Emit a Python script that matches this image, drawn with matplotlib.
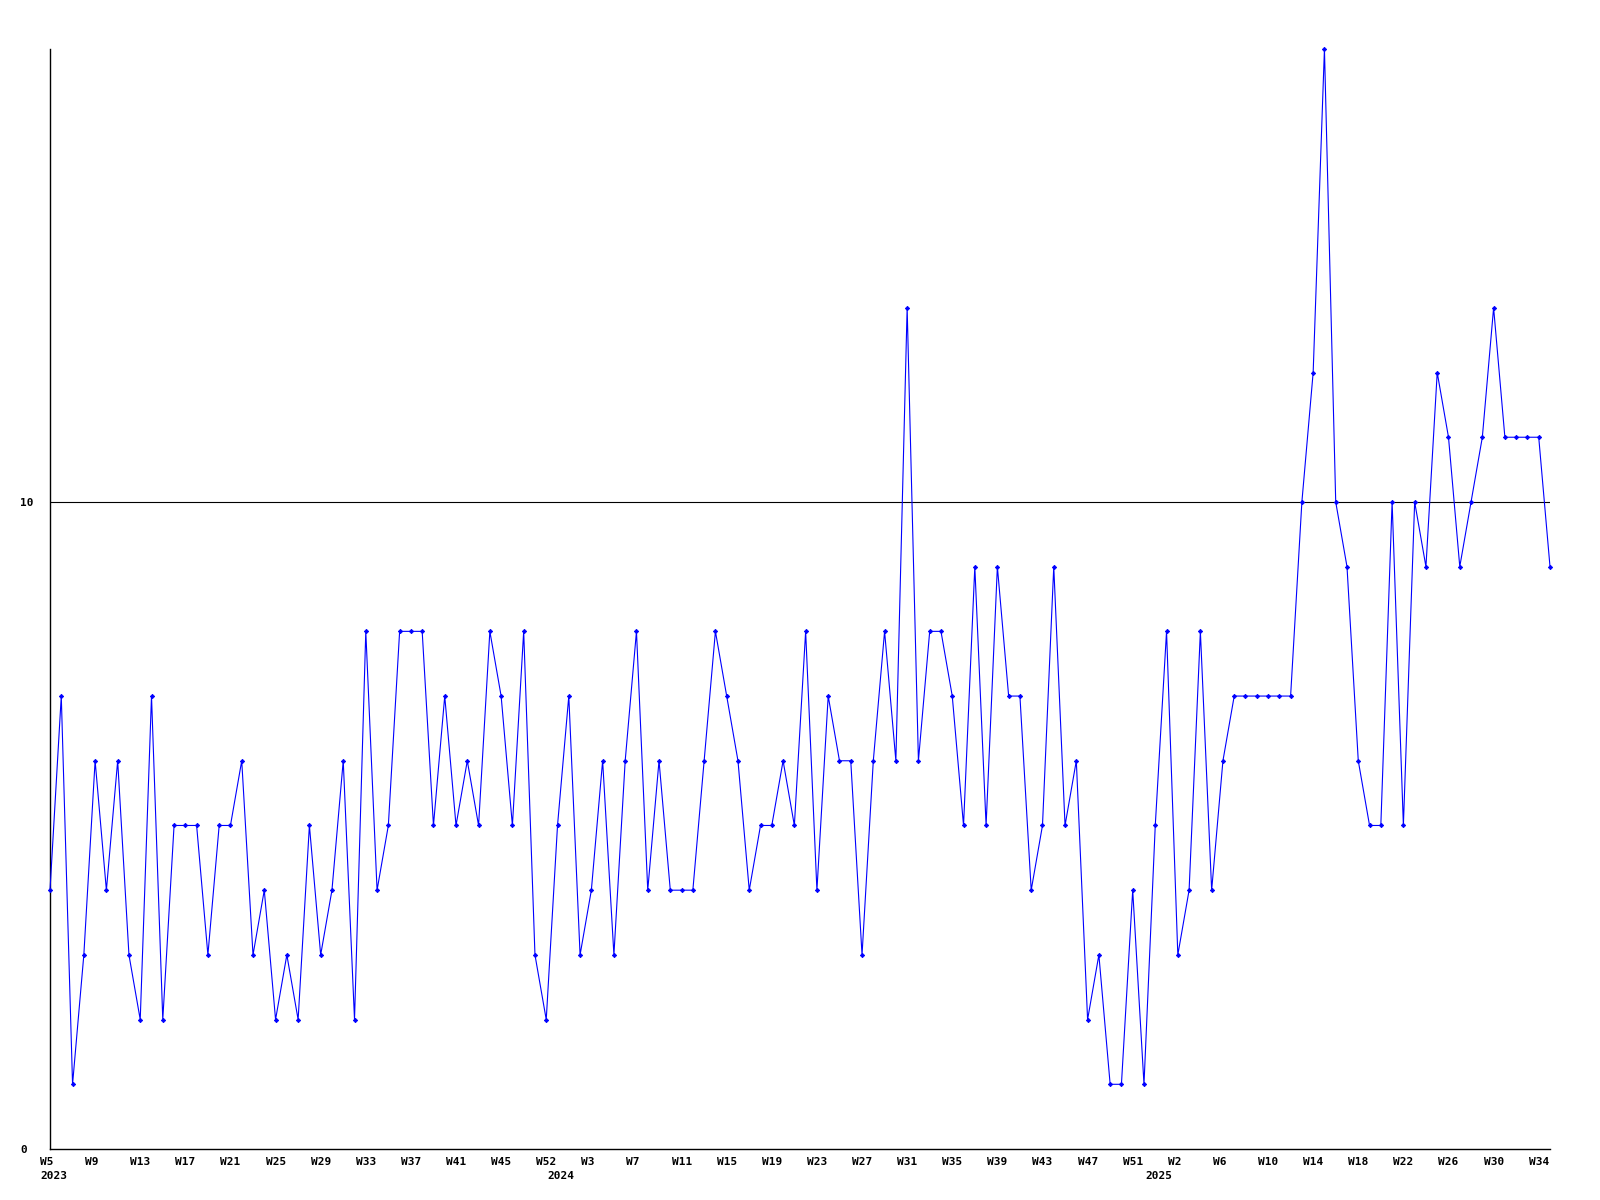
import matplotlib
matplotlib.use("Agg")
import matplotlib.pyplot as plt
from matplotlib.transforms import ScaledTranslation

# ---- data ----
years = [2023, 2024, 2025]
weeks_2023 = [5, 6, 7, 8, 9, 10, 11, 12, 13, 14, 15, 16, 17, 18, 19, 20, 21, 22, 23, 24,
              25, 26, 27, 28, 29, 30, 31, 32, 33, 34, 35, 36, 37, 38, 39, 40, 41, 42, 43, 44,
              45, 46, 48, 50, 52]
weeks_2024 = [0, 1, 2, 3, 4, 5, 6, 7, 8, 9, 10, 11, 12, 13, 14, 15, 16, 17, 18, 19, 20,
              21, 22, 23, 24, 25, 26, 27, 28, 29, 30, 31, 32, 33, 34, 35, 36, 37, 38, 39, 40,
              41, 42, 43, 44, 45, 46, 47, 48, 49, 50, 51, 52]
weeks_2025 = [0, 1, 2, 3, 4, 5, 6, 7, 8, 9, 10, 11, 12, 13, 14, 15, 16, 17, 18, 19, 20,
              21, 22, 23, 24, 25, 26, 27, 28, 29, 30, 31, 32, 33, 34, 35]
values = [4, 7, 1, 3, 6, 4, 6, 3, 2, 7, 2, 5, 5, 5, 3, 5, 5, 6, 3, 4,
          2, 3, 2, 5, 3, 4, 6, 2, 8, 4, 5, 8, 8, 8, 5, 7, 5, 6, 5, 8,
          7, 5, 8, 3, 2, 5, 7, 3, 4, 6, 3, 6, 8, 4, 6, 4, 4, 4, 6, 8,
          7, 6, 4, 5, 5, 6, 5, 8, 4, 7, 6, 6, 3, 6, 8, 6, 13, 6, 8, 8,
          7, 5, 9, 5, 9, 7, 7, 4, 5, 9, 5, 6, 2, 3, 1, 1, 4, 1, 5, 8,
          3, 4, 8, 4, 6, 7, 7, 7, 7, 7, 7, 10, 12, 17, 10, 9, 6, 5, 5, 10,
          5, 10, 9, 12, 11, 9, 10, 11, 13, 11, 11, 11, 11, 9]
y_ticks = [0, 10]
reference_level = 10

week_lists = [weeks_2023, weeks_2024, weeks_2025]
labels = []
year_starts = []
for yr, wl in zip(years, week_lists):
    year_starts.append(len(labels))
    labels += ["W%d" % w for w in wl]
x = list(range(len(values)))

W, H = 1600, 1200
fig = plt.figure(figsize=(W / 100, H / 100), dpi=100)
ax = fig.add_axes([50 / W, 1 - 1149 / H, 1500 / W, 1100 / H])

ax.axhline(reference_level, color="black", lw=0.8, zorder=1)
ax.plot(x, values, color="#0000ff", lw=0.8, marker="D", ms=2.2,
        mfc="#0000ff", mec="#0000ff", mew=0.6, clip_on=False, zorder=3)

ax.set_xlim(0, len(values) - 1)
ax.set_ylim(0, 17)
for s in ["top", "right"]:
    ax.spines[s].set_visible(False)
for s in ["left", "bottom"]:
    ax.spines[s].set_color("black")
    ax.spines[s].set_linewidth(1.0)

font = dict(family="DejaVu Sans Mono", weight="bold", size=8)
ax.set_xticks(x[::4])
ax.set_xticklabels(labels[::4], **font)
ax.tick_params(axis="x", length=0, pad=6)
shift = ScaledTranslation(-10 / 100, 0, fig.dpi_scale_trans)
for lab in ax.get_xticklabels():
    lab.set_ha("left")
    lab.set_transform(lab.get_transform() + shift)
ax.set_yticks(y_ticks)
ax.set_yticklabels([str(v) for v in y_ticks], **font)
ax.tick_params(axis="y", length=0, pad=21.5)
for lab in ax.get_yticklabels():
    lab.set_ha("left")

for yr, idx in zip(years, year_starts):
    ax.annotate(str(yr), xy=(idx, 0), xycoords=("data", "axes fraction"),
                xytext=(2.5, -19.5), textcoords="offset points",
                ha="center", va="center", **font)

fig.savefig("out.png", dpi=100, facecolor="white")
